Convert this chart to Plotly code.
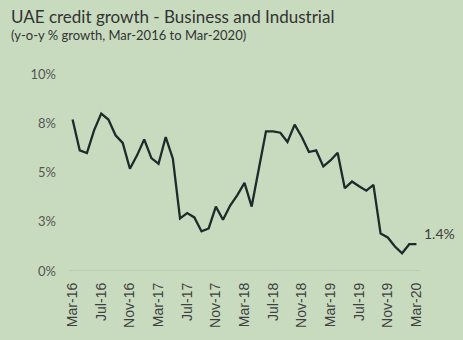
import plotly.graph_objects as go

months = ["Mar-16","Apr-16","May-16","Jun-16","Jul-16","Aug-16","Sep-16","Oct-16","Nov-16","Dec-16",
          "Jan-17","Feb-17","Mar-17","Apr-17","May-17","Jun-17","Jul-17","Aug-17","Sep-17","Oct-17",
          "Nov-17","Dec-17","Jan-18","Feb-18","Mar-18","Apr-18","May-18","Jun-18","Jul-18","Aug-18",
          "Sep-18","Oct-18","Nov-18","Dec-18","Jan-19","Feb-19","Mar-19","Apr-19","May-19","Jun-19",
          "Jul-19","Aug-19","Sep-19","Oct-19","Nov-19","Dec-19","Jan-20","Feb-20","Mar-20"]
growth = [7.69, 6.12, 5.99, 7.14, 7.99, 7.69, 6.89, 6.50, 5.19, 5.87,
          6.68, 5.73, 5.44, 6.80, 5.70, 2.67, 2.94, 2.72, 2.01, 2.16,
          3.27, 2.60, 3.32, 3.85, 4.47, 3.27, 5.19, 7.09, 7.09, 7.02,
          6.55, 7.43, 6.80, 6.04, 6.12, 5.31, 5.61, 6.00, 4.20, 4.54,
          4.30, 4.08, 4.37, 1.90, 1.70, 1.24, 0.90, 1.36, 1.36]
x_ticks = months[::4]
y_tickvals = [0, 2.5, 5, 7.5, 10]
y_ticktext = ["0%", "3%", "5%", "8%", "10%"]
last_label = "1.4%"

BG = "#c8dbbf"
FONT = "Lato"

fig = go.Figure()
fig.add_trace(go.Scatter(x=months, y=growth, mode="lines",
                         line=dict(color="#1c2b2b", width=2.3),
                         hoverinfo="skip", showlegend=False))

fig.add_annotation(x=months[-1], y=growth[-1], xref="x", yref="y",
                   text=last_label, showarrow=False, xanchor="left", yanchor="middle",
                   xshift=6, yshift=11, font=dict(family=FONT, size=14, color="#404040"))

W, H = 463, 340
L, R, T, B = 69, 43, 74, 69
fig.add_annotation(xref="paper", yref="paper",
                   x=(9 - L) / (W - L - R), y=(H - B - 16) / (H - T - B),
                   text="UAE credit growth - Business and Industrial", showarrow=False,
                   xanchor="left", yanchor="middle",
                   font=dict(family=FONT, size=17, color="#333333"))
fig.add_annotation(xref="paper", yref="paper",
                   x=(9 - L) / (W - L - R), y=(H - B - 35) / (H - T - B),
                   text="(y-o-y % growth, Mar-2016 to Mar-2020)", showarrow=False,
                   xanchor="left", yanchor="middle",
                   font=dict(family=FONT, size=13, color="#333333"))

fig.update_layout(
    width=W, height=H,
    margin=dict(l=L, r=R, t=T, b=B),
    paper_bgcolor=BG, plot_bgcolor=BG,
    font=dict(family=FONT, size=13, color="#404040"),
    xaxis=dict(type="category", categoryorder="array", categoryarray=months,
               range=[-0.5, len(months) - 0.5],
               tickmode="array", tickvals=x_ticks, ticktext=x_ticks,
               tickangle=-90, showgrid=False, zeroline=False, showline=False,
               ticks="", ticklabelstandoff=8,
               tickfont=dict(family="Liberation Sans", size=14, color="#404040")),
    yaxis=dict(range=[0, 10], tickmode="array", tickvals=y_tickvals, ticktext=y_ticktext,
               showgrid=False, zeroline=False, showline=False, ticks="",
               ticklabelstandoff=12, tickfont=dict(size=13, color="#555555")),
    shapes=[dict(type="line", xref="paper", yref="y", x0=0, x1=1, y0=0, y1=0,
                 line=dict(color="#a9c0a0", width=1), layer="below")],
)

fig.write_html("out.html")
